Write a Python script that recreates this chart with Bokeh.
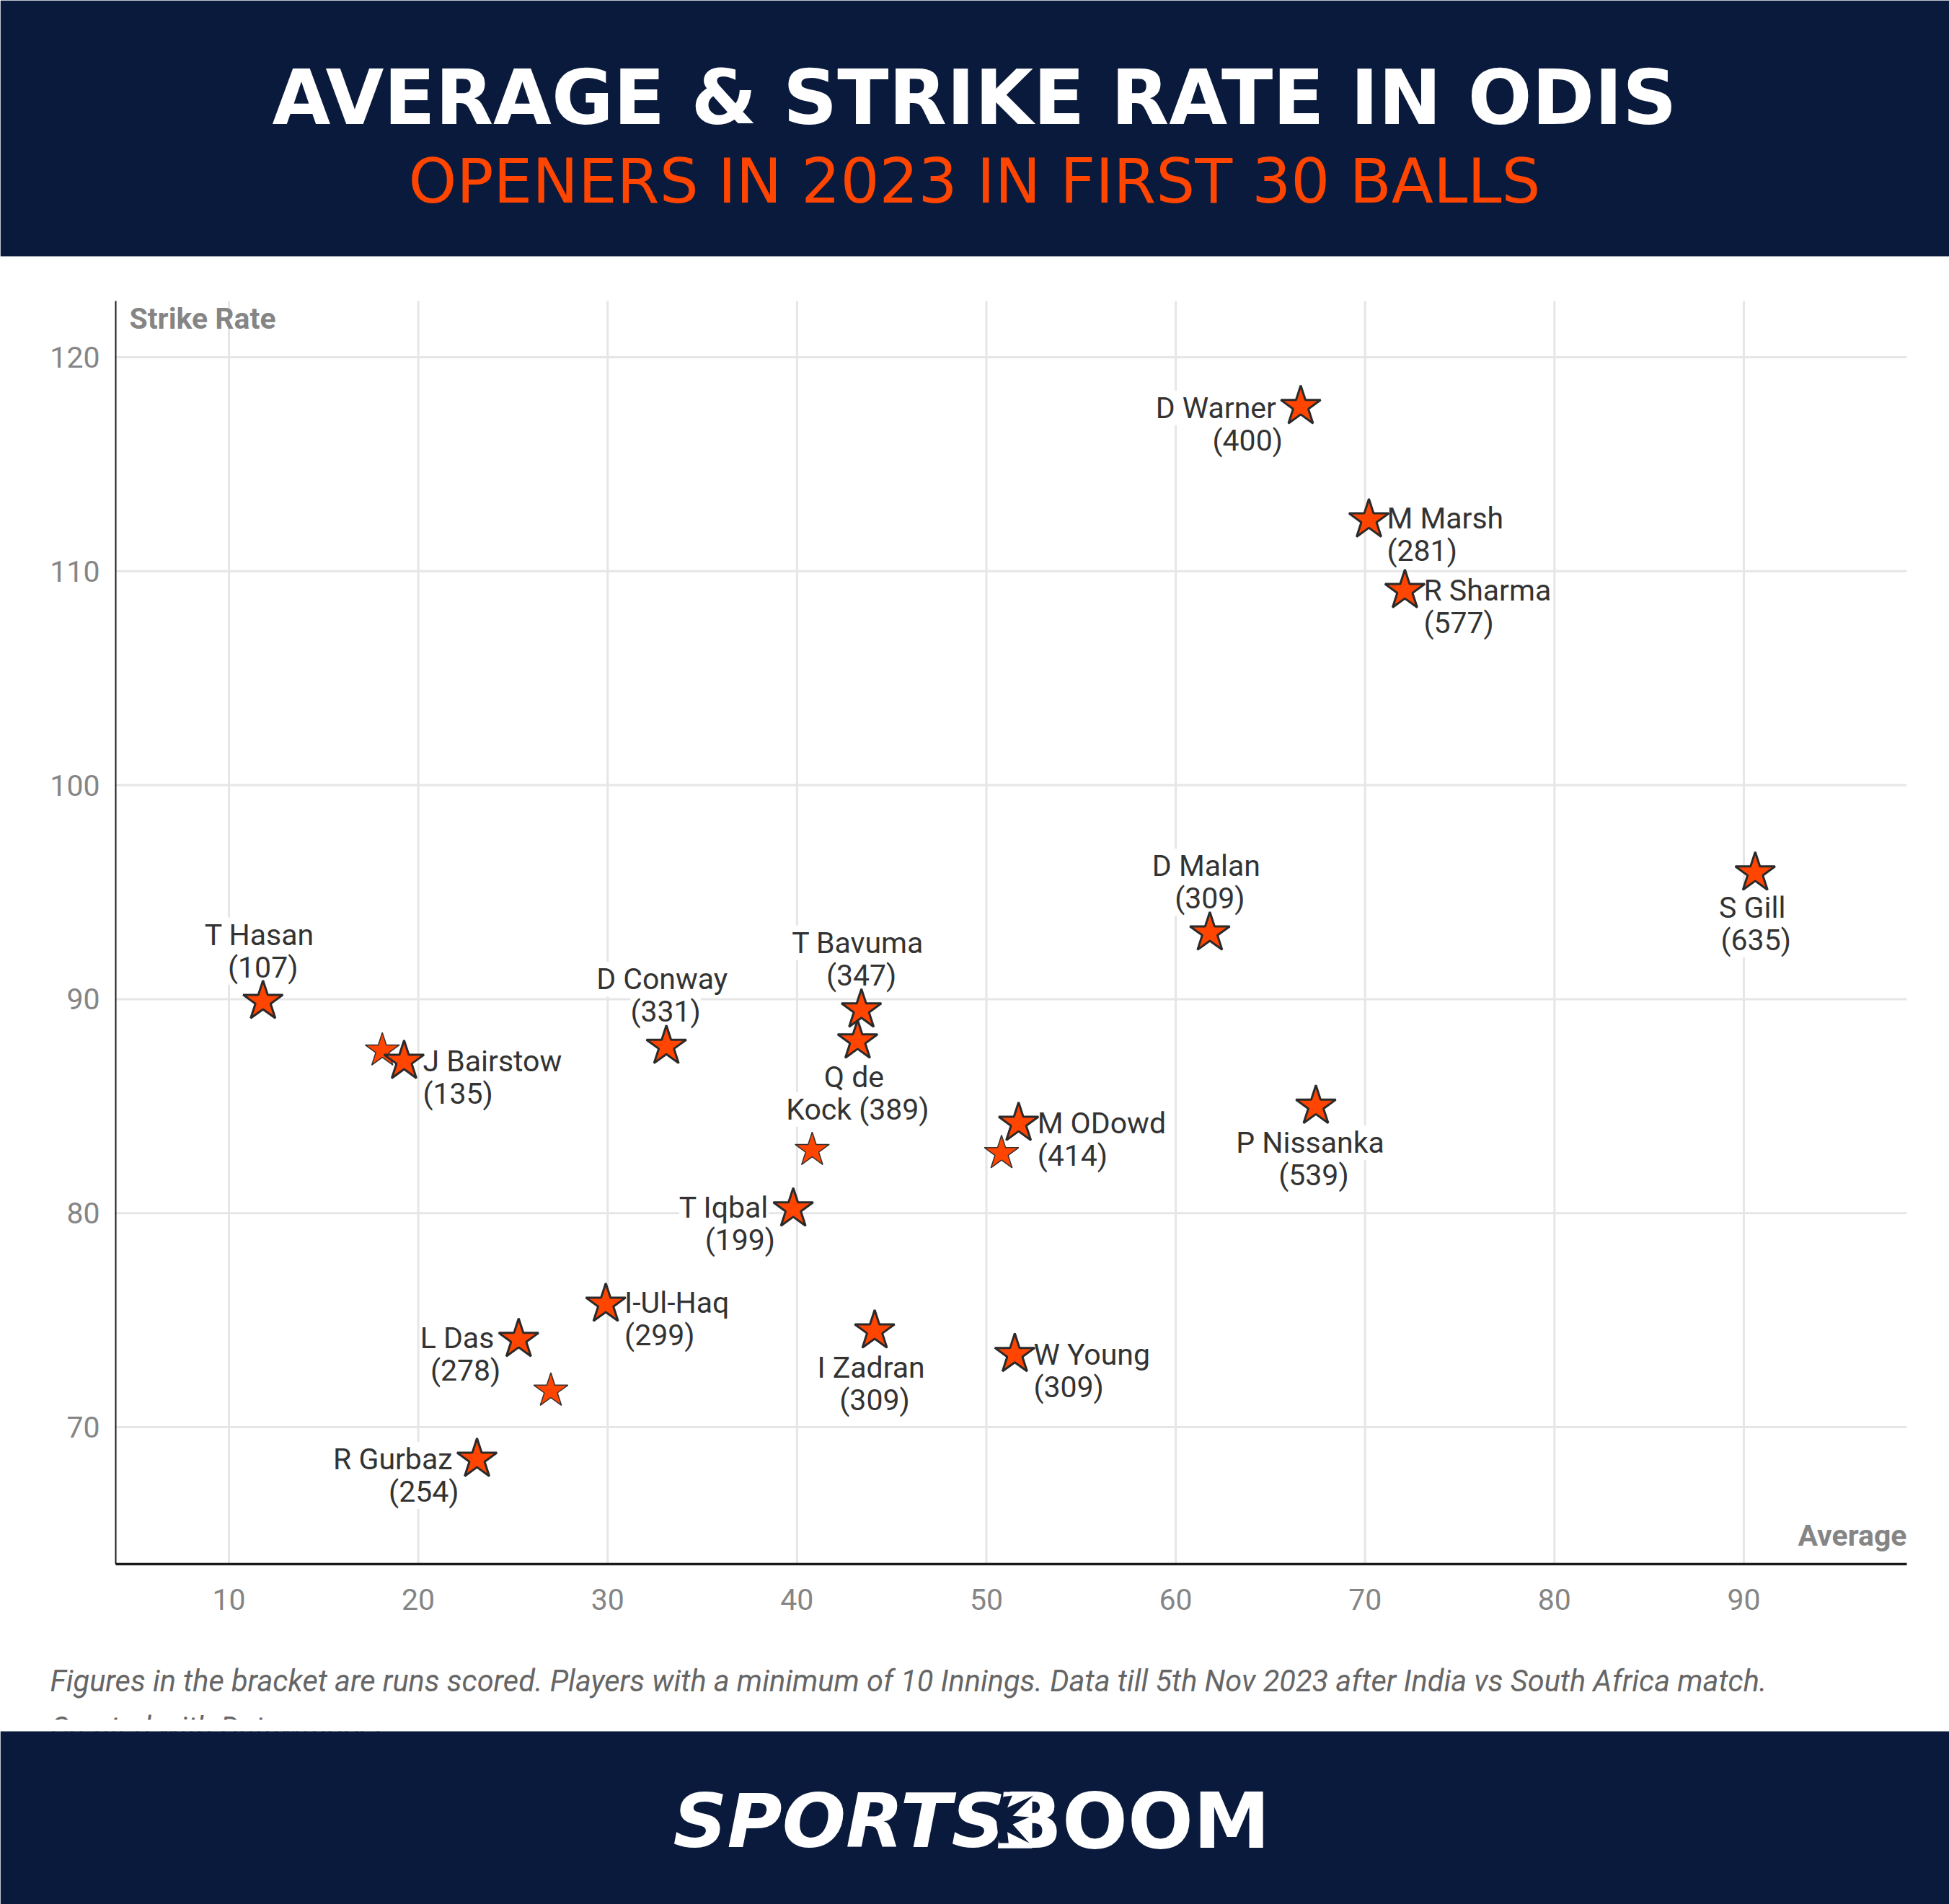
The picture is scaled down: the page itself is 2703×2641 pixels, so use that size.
from bokeh.plotting import figure
from bokeh.models import Range1d, Label, LabelSet, ColumnDataSource, FixedTicker, LinearAxis, BoxAnnotation, PolyAnnotation
from bokeh.core.properties import value
from bokeh.embed import file_html
from bokeh.resources import INLINE

# ---------- data ----------
players = ["D Warner", "M Marsh", "R Sharma", "S Gill", "D Malan", "T Hasan", "T Bavuma",
           "D Conway", "Q de Kock", "J Bairstow", "P Nissanka", "M ODowd", "T Iqbal",
           "I-Ul-Haq", "L Das", "I Zadran", "W Young", "R Gurbaz"]
average = [66.6, 70.2, 72.1, 90.6, 61.8, 11.8, 43.4, 33.1, 43.2, 19.25, 67.4, 51.7, 39.8,
           29.9, 25.3, 44.1, 51.5, 23.1]
strike_rate = [117.7, 112.4, 109.1, 95.9, 93.1, 89.9, 89.5, 87.8, 88.05, 87.1, 85.0, 84.2, 80.2,
               75.75, 74.1, 74.5, 73.4, 68.5]
runs = [400, 281, 577, 635, 309, 107, 347, 331, 389, 135, 539, 414, 199, 299, 278, 309, 309, 254]
other_average = [18.1, 50.8, 40.8, 27.0]
other_strike_rate = [87.6, 82.8, 82.95, 71.7]
x_ticks = [10, 20, 30, 40, 50, 60, 70, 80, 90]
y_ticks = [70, 80, 90, 100, 110, 120]

# ---------- label placement (pixels from the star) ----------
placement = {
    "D Warner": ("right", -34, 4), "M Marsh": ("left", 25, 0), "R Sharma": ("left", 26, 2),
    "S Gill": ("center", -4, 50), "D Malan": ("center", -5, -91), "T Hasan": ("center", -5, -90),
    "T Bavuma": ("center", -5, -91), "D Conway": ("center", -6, -91), "Q de Kock": ("center", -5, 52),
    "J Bairstow": ("left", 26, 2), "P Nissanka": ("center", -8, 53), "M ODowd": ("left", 26, 2),
    "T Iqbal": ("right", -34, 0), "I-Ul-Haq": ("left", 26, 0), "L Das": ("right", -34, 0),
    "I Zadran": ("center", -5, 53), "W Young": ("left", 26, 2), "R Gurbaz": ("right", -34, 2),
}
run_shift = {"left": 0, "center": 5, "right": 9}

NAVY = "#0A1A3C"
ORANGE = "#FF4500"
LINE = 45
W, H = 2703, 2641

# page pixel <-> data scale
X10, X90 = 317.0, 2418.0
Y120, Y70 = 495.0, 1979.0
sx = (X90 - X10) / 80.0
sy = (Y70 - Y120) / 50.0
def dx_(px):
    return 10 + (px - X10) / sx
def dy_(py):
    return 70 + (Y70 - py) / sy

LEFT, RIGHT, TOP, BOTTOM = 160, 2644, 417, 2169

p = figure(width=W, height=H, output_backend="svg", toolbar_location=None,
           x_range=Range1d(dx_(0), dx_(W)), y_range=Range1d(dy_(H), dy_(0)),
           x_axis_location=None, y_axis_location=None, min_border=0, outline_line_color=None,
           background_fill_color="white", border_fill_color="white")
p.grid.grid_line_color = None

# ---------- bands ----------
p.add_layout(BoxAnnotation(top=dy_(0), bottom=dy_(355), left=dx_(0), right=dx_(W),
                           fill_color=NAVY, fill_alpha=1, line_color=None, level="underlay"))

def page_label(px, py, text, **kw):
    p.add_layout(Label(x=dx_(px), y=dy_(py), text=text, **kw))

page_label(1351, 135, "AVERAGE & STRIKE RATE IN ODIS", text_font="DejaVu Sans", text_font_style="bold",
           text_font_size="104.5px", text_color="white", text_align="center", text_baseline="alphabetic")
page_label(1351, 251, "OPENERS IN 2023 IN FIRST 30 BALLS", text_font="DejaVu Sans",
           text_font_size="85px", text_color=ORANGE, text_align="center", text_baseline="alphabetic")

# ---------- axes and grid ----------
xaxis = LinearAxis(ticker=FixedTicker(ticks=x_ticks), fixed_location=dy_(BOTTOM),
                   bounds=(dx_(LEFT), dx_(RIGHT)))
yaxis = LinearAxis(ticker=FixedTicker(ticks=y_ticks), fixed_location=dx_(LEFT),
                   bounds=(dy_(BOTTOM), dy_(TOP)))
p.add_layout(xaxis, "below")
p.add_layout(yaxis, "left")
for ax in (xaxis, yaxis):
    ax.major_tick_line_color = None
    ax.minor_tick_line_color = None
    ax.major_label_text_font = "Roboto"
    ax.major_label_text_font_size = "41px"
    ax.major_label_text_color = "#858585"
    ax.axis_line_color = "#1A1A1A"
xaxis.axis_line_width = 3.5
yaxis.axis_line_width = 2
xaxis.major_label_standoff = 28
yaxis.major_label_standoff = 16

p.segment(x_ticks, [dy_(BOTTOM)] * len(x_ticks), x_ticks, [dy_(TOP)] * len(x_ticks),
          line_color="#E6E6E6", line_width=3, level="image")
p.segment([dx_(LEFT)] * len(y_ticks), y_ticks, [dx_(RIGHT)] * len(y_ticks), y_ticks,
          line_color="#E6E6E6", line_width=3, level="image")

# ---------- marks ----------
p.scatter(other_average, other_strike_rate, marker="star", size=50, fill_color=ORANGE,
          line_color="#333333", line_width=1.5)
p.scatter(average, strike_rate, marker="star", size=58, fill_color=ORANGE,
          line_color="#2A2A2A", line_width=3)

for align in ("left", "center", "right"):
    idx = [i for i, n in enumerate(players) if placement[n][0] == align]
    first = [players[i] for i in idx]
    second = ["(%d)" % runs[i] for i in idx]
    for i, n in enumerate(first):
        if n == "Q de Kock":
            first[i] = "Q de"
            second[i] = "Kock (389)"
    dx = [placement[players[i]][1] for i in idx]
    dy = [placement[players[i]][2] - 2 for i in idx]
    src = ColumnDataSource(dict(
        x=[average[i] for i in idx], y=[strike_rate[i] for i in idx],
        first=first, second=second,
        dx1=dx, dx2=[d + run_shift[align] for d in dx],
        dy1=[-d for d in dy], dy2=[-(d + LINE) for d in dy]))
    for text, dxc, dyc in (("second", "dx2", "dy2"), ("first", "dx1", "dy1")):
        p.add_layout(LabelSet(x="x", y="y", text=text, x_offset=dxc, y_offset=dyc, source=src,
                              level="underlay", text_font=value("Roboto"), text_font_size=value("41px"),
                              text_color="#333333", text_align=align, text_baseline="middle",
                              background_fill_color="white"))

page_label(179, 441, "Strike Rate", text_font="Roboto", text_font_style="bold", text_font_size="41px",
           text_color="#858585", text_baseline="middle")
page_label(2644, 2129, "Average", text_font="Roboto", text_font_style="bold", text_font_size="41px",
           text_color="#858585", text_align="right", text_baseline="middle")
page_label(69, 2331, "Figures in the bracket are runs scored. Players with a minimum of 10 Innings. "
                     "Data till 5th Nov 2023 after India vs South Africa match.",
           text_font="Roboto", text_font_style="italic", text_font_size="41.5px",
           text_color="#666666", text_baseline="middle")
page_label(69, 2396, "Created with Datawrapper", text_font="Roboto", text_font_style="italic",
           text_font_size="41.5px", text_color="#666666", text_baseline="middle")

# white strip that crops the credit line just above the footer, then the footer band
p.add_layout(BoxAnnotation(top=dy_(2385), bottom=dy_(2401), left=dx_(0), right=dx_(W),
                           fill_color="white", fill_alpha=1, line_color=None, level="overlay"))
p.add_layout(BoxAnnotation(top=dy_(2401), bottom=dy_(H), left=dx_(0), right=dx_(W),
                           fill_color=NAVY, fill_alpha=1, line_color=None, level="overlay"))

# ---------- footer logo ----------
def uv(us, vs):
    return [dx_(900 + u / 1.742) for u in us], [dy_(2450 + v / 3) for v in vs]

for px, txt, style, size in ((933, "SPORTS", "bold italic", "104px"), (1391, "BOOM", "bold", "107px")):
    p.add_layout(Label(x=dx_(px), y=dy_(2525), text=txt, text_font="DejaVu Sans", text_font_style=style,
                       text_font_size=size, text_color="white", text_baseline="alphabetic", level="overlay"))
bx, by = uv([856, 925, 925, 842], [105, 105, 340, 340])
p.add_layout(PolyAnnotation(xs=bx, ys=by, fill_color="white", fill_alpha=1, line_color=None, level="overlay"))
bx, by = uv([856, 877, 865, 928, 878, 918, 878, 918, 865, 868, 845, 835],
            [125, 120, 170, 120, 205, 210, 240, 318, 272, 318, 318, 180])
p.add_layout(PolyAnnotation(xs=bx, ys=by, fill_color=NAVY, fill_alpha=1, line_color=None, level="overlay"))

open("out.html", "w").write(file_html(p, INLINE))
